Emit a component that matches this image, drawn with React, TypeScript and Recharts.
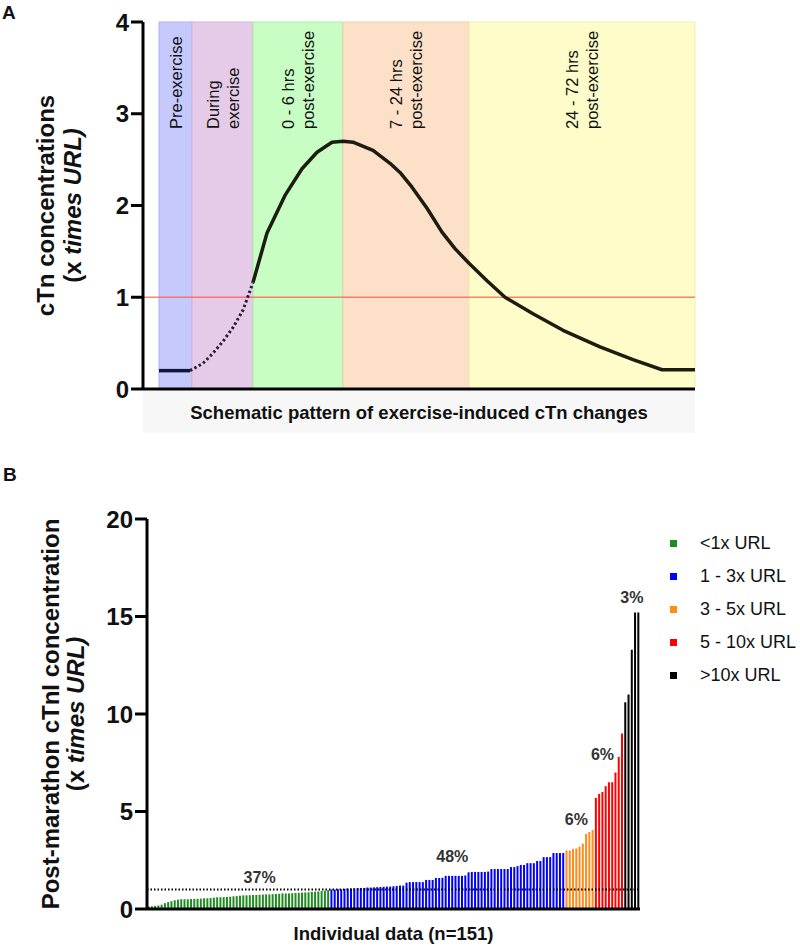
import React from 'react';
import {
  ComposedChart,
  BarChart,
  Bar,
  Cell,
  Line,
  XAxis,
  YAxis,
  ReferenceArea,
  ReferenceLine,
  ReferenceDot,
  Legend,
} from 'recharts';

const FONT = '"Liberation Sans", Arial, Helvetica, sans-serif';

// ---- Panel A: schematic curve (x = schematic time units) ----
const BAND_EDGES = [16, 49, 110, 200, 326, 552];
const BAND_FILLS = ['#c6c9fc', '#e5cbe7', '#c8fdc4', '#fde0c8', '#fefcc9'];
const BAND_STROKES = ['#aeb1f2', '#d3b6da', '#aeeaa8', '#f1cda9', '#f3ecb0'];
const BAND_LABELS = [
  ['Pre-exercise'],
  ['During', 'exercise'],
  ['0 - 6 hrs', 'post-exercise'],
  ['7 - 24 hrs', 'post-exercise'],
  ['24 - 72 hrs', 'post-exercise'],
];
const TOP_Y_TICKS = [0, 1, 2, 3, 4];

const PRE_X = [16, 47];
const PRE_Y = [0.2, 0.2];
const DURING_X = [47, 60, 70, 80, 90, 100, 110];
const DURING_Y = [0.2, 0.28, 0.39, 0.52, 0.67, 0.86, 1.16];
const POST_X = [110, 124, 142, 159, 174, 189, 200, 210, 230, 247, 257, 269, 284, 299, 312, 326, 344, 362, 390, 420, 457, 490, 519, 552];
const POST_Y = [1.16, 1.7, 2.11, 2.4, 2.58, 2.69, 2.7, 2.69, 2.6, 2.46, 2.36, 2.2, 1.97, 1.71, 1.53, 1.37, 1.18, 1.0, 0.82, 0.64, 0.46, 0.32, 0.21, 0.21];

// ---- Panel B: individual post-marathon cTnI (x times URL) ----
const GREEN = [
  0.13, 0.14, 0.16, 0.18, 0.22, 0.3, 0.36, 0.4, 0.45, 0.48,
  0.5, 0.5, 0.5, 0.51, 0.52, 0.52, 0.53, 0.55, 0.55, 0.56,
  0.58, 0.6, 0.6, 0.61, 0.62, 0.63, 0.65, 0.66, 0.68, 0.7,
  0.7, 0.71, 0.72, 0.72, 0.73, 0.74, 0.75, 0.75, 0.76, 0.77,
  0.78, 0.8, 0.8, 0.8, 0.81, 0.82, 0.83, 0.84, 0.85, 0.86,
  0.88, 0.89, 0.9, 0.92, 0.94, 0.97,
];
const BLUE = [
  1.0, 1.0, 1.01, 1.02, 1.03, 1.05, 1.05, 1.06, 1.07, 1.08,
  1.08, 1.1, 1.1, 1.11, 1.12, 1.13, 1.14, 1.15, 1.15, 1.17,
  1.18, 1.2, 1.2, 1.35, 1.38, 1.38, 1.38, 1.38, 1.38, 1.49,
  1.49, 1.49, 1.59, 1.59, 1.6, 1.7, 1.7, 1.7, 1.7, 1.7,
  1.7, 1.72, 1.88, 1.9, 1.9, 1.9, 1.9, 1.9, 1.92, 2.05,
  2.05, 2.05, 2.05, 2.05, 2.05, 2.15, 2.15, 2.2, 2.26, 2.26,
  2.35, 2.35, 2.35, 2.46, 2.46, 2.66, 2.66, 2.66, 2.87, 2.87,
  2.87, 2.87,
];
const ORANGE = [3.0, 3.0, 3.08, 3.1, 3.2, 3.35, 3.85, 3.95, 4.05];
const RED = [5.7, 5.9, 6.0, 6.3, 6.5, 6.5, 7.0, 7.8, 9.0];
const BLACK = [10.6, 11.0, 13.3, 15.2, 15.2];

const GROUP_NAMES = ['<1x URL', '1 - 3x URL', '3 - 5x URL', '5 - 10x URL', '>10x URL'];
const GROUP_COLORS = ['#1f8a1f', '#0000ff', '#ff8c1a', '#ff0000', '#000000'];
const BOTTOM_Y_TICKS = [0, 5, 10, 15, 20];

const PCT_TEXT = ['37%', '48%', '6%', '6%', '3%'];
const PCT_AT = [34, 93, 131, 139, 148];
const PCT_Y = [1.64, 2.67, 4.6, 7.9, 15.95];

const bands = BAND_FILLS.map((fill, i) => ({
  x1: BAND_EDGES[i],
  x2: BAND_EDGES[i + 1],
  fill,
  stroke: BAND_STROKES[i],
  lines: BAND_LABELS[i],
}));
const toPts = (xs: number[], ys: number[]) => xs.map((x, i) => ({ x, y: ys[i] }));
const prePts = toPts(PRE_X, PRE_Y);
const duringPts = toPts(DURING_X, DURING_Y);
const postPts = toPts(POST_X, POST_Y);

const groups = [GREEN, BLUE, ORANGE, RED, BLACK];
const barData: { idx: number; value: number; group: number }[] = [];
groups.forEach((vals, g) => vals.forEach((v) => barData.push({ idx: barData.length, value: v, group: g })));

const bandLabel = (lines: string[]) => (props: any) => {
  const { x, y, width } = props.viewBox;
  const cx = x + width / 2;
  const base = y + 107;
  return (
    <g>
      {lines.map((t, i) => {
        const lx = cx + (i - (lines.length - 1) / 2) * 20;
        return (
          <text
            key={t}
            x={lx}
            y={base}
            transform={`rotate(-90 ${lx} ${base})`}
            textAnchor="start"
            dominantBaseline="central"
            fontSize={16.5}
            fill="#111"
          >
            {t}
          </text>
        );
      })}
    </g>
  );
};

const yLabel = (first: string, x1: number, x2: number) => (props: any) => {
  const { y, height } = props.viewBox;
  const cy = y + height / 2;
  return (
    <g fontWeight={700} fontSize={24} fill="#111">
      <text x={x1} y={cy} transform={`rotate(-90 ${x1} ${cy})`} textAnchor="middle" dominantBaseline="central">
        {first}
      </text>
      <text x={x2} y={cy} transform={`rotate(-90 ${x2} ${cy})`} textAnchor="middle" dominantBaseline="central">
        (x <tspan fontStyle="italic">times URL)</tspan>
      </text>
    </g>
  );
};

const topXLabel = (props: any) => {
  const { x, y, width } = props.viewBox;
  return (
    <g>
      <rect x={x} y={y + 2} width={width} height={42} fill="#f7f7f7" />
      <text x={x + width / 2} y={y + 30} textAnchor="middle" fontSize={18.5} fontWeight={700} fill="#111">
        Schematic pattern of exercise-induced cTn changes
      </text>
    </g>
  );
};

const bottomXLabel = (props: any) => {
  const { x, y, width } = props.viewBox;
  return (
    <text x={x + width / 2} y={y + 31} textAnchor="middle" fontSize={18.5} fontWeight={700} fill="#111">
      Individual data (n=151)
    </text>
  );
};

const pctLabel = (text: string) => (props: any) => {
  const { x, y, width, height } = props.viewBox;
  return (
    <text x={x + width / 2} y={y + height / 2} textAnchor="middle" dominantBaseline="central" fontSize={16} fontWeight={700} fill="#333">
      {text}
    </text>
  );
};

const renderLegend = () => (
  <div style={{ fontFamily: FONT }}>
    {GROUP_NAMES.map((n, i) => (
      <div key={n} style={{ display: 'flex', alignItems: 'center', height: 33 }}>
        <span style={{ display: 'inline-block', width: 7, height: 7, background: GROUP_COLORS[i], marginLeft: 5, marginRight: 23 }} />
        <span style={{ fontSize: 18, color: '#111' }}>{n}</span>
      </div>
    ))}
  </div>
);

const axisStroke = { stroke: '#000', strokeWidth: 3 };

export default function App() {
  return (
    <div style={{ position: 'absolute', left: 0, top: 0, width: 800, height: 951, background: '#fff', fontFamily: FONT }}>
      <div style={{ position: 'absolute', left: 0, top: 0 }}>
        <ComposedChart width={800} height={440} margin={{ top: 22, right: 105, bottom: 21, left: 0 }}>
          {bands.map((b) => (
            <ReferenceArea
              key={b.x1}
              x1={b.x1}
              x2={b.x2}
              y1={0}
              y2={4}
              fill={b.fill}
              fillOpacity={1}
              stroke={b.stroke}
              strokeWidth={1}
              label={bandLabel(b.lines)}
            />
          ))}
          <ReferenceLine y={1} stroke="#ff5a48" strokeOpacity={0.75} strokeWidth={1.5} />
          <XAxis
            type="number"
            dataKey="x"
            domain={[0, 552]}
            ticks={[]}
            tick={false}
            tickLine={false}
            axisLine={axisStroke}
            height={30}
            label={topXLabel}
          />
          <YAxis
            type="number"
            domain={[0, 4]}
            ticks={TOP_Y_TICKS}
            width={143}
            tickSize={12}
            tick={{ fontSize: 24, fontWeight: 700, fill: '#111' }}
            tickLine={axisStroke}
            axisLine={axisStroke}
            label={yLabel('cTn concentrations', 45, 72)}
          />
          <Line data={prePts} dataKey="y" stroke="#15153a" strokeWidth={3.5} dot={false} isAnimationActive={false} />
          <Line data={duringPts} dataKey="y" stroke="#2a1e30" strokeWidth={3} strokeDasharray="2.5 2.5" dot={false} isAnimationActive={false} />
          <Line data={postPts} dataKey="y" stroke="#1c1c10" strokeWidth={3.5} strokeLinejoin="round" dot={false} isAnimationActive={false} />
        </ComposedChart>
      </div>
      <div style={{ position: 'absolute', left: 0, top: 440 }}>
        <BarChart width={800} height={511} data={barData} margin={{ top: 79, right: 160, bottom: 12, left: 0 }} barCategoryGap="18%">
          <XAxis dataKey="idx" tick={false} tickLine={false} axisLine={axisStroke} height={30} label={bottomXLabel} />
          <YAxis
            type="number"
            domain={[0, 20]}
            ticks={BOTTOM_Y_TICKS}
            width={147}
            tickSize={12}
            tick={{ fontSize: 24, fontWeight: 700, fill: '#111' }}
            tickLine={axisStroke}
            axisLine={axisStroke}
            label={yLabel('Post-marathon cTnI concentration', 50, 75)}
          />
          <Bar dataKey="value" isAnimationActive={false}>
            {barData.map((d) => (
              <Cell key={d.idx} fill={GROUP_COLORS[d.group]} />
            ))}
          </Bar>
          <ReferenceLine y={1} stroke="#000" strokeWidth={2} strokeDasharray="1.5 2" />
          {PCT_TEXT.map((t, i) => (
            <ReferenceDot key={i} x={PCT_AT[i]} y={PCT_Y[i]} r={0} fill="none" stroke="none" label={pctLabel(t)} />
          ))}
          <Legend
            layout="vertical"
            align="center"
            verticalAlign="middle"
            content={renderLegend}
            wrapperStyle={{ left: 665, top: 87, width: 135 }}
          />
        </BarChart>
      </div>
      <svg width={800} height={951} style={{ position: 'absolute', left: 0, top: 0, pointerEvents: 'none' }}>
        <text x={2} y={19} fontSize={19} fontWeight={700} fill="#111">A</text>
        <text x={3} y={481} fontSize={19} fontWeight={700} fill="#111">B</text>
      </svg>
    </div>
  );
}
